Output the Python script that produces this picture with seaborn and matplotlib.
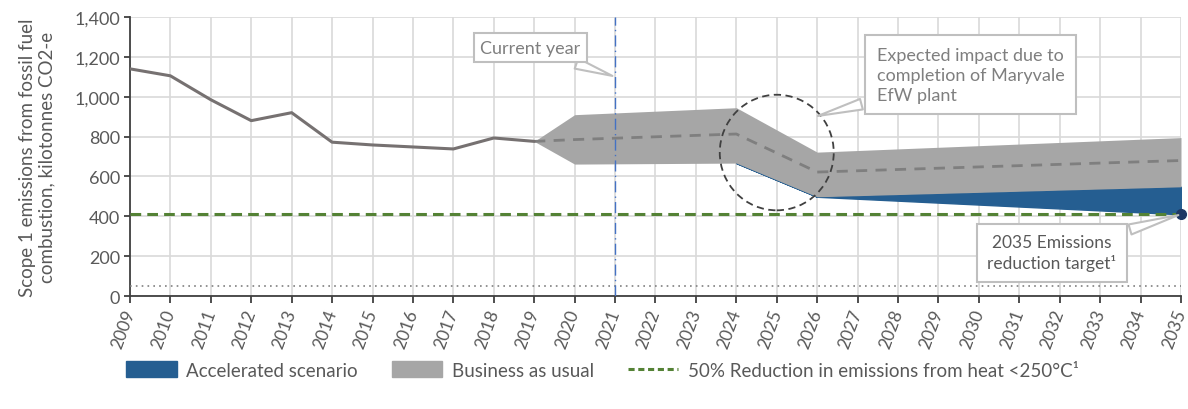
import matplotlib
matplotlib.use("Agg")
import matplotlib.pyplot as plt
import seaborn as sns
import numpy as np
import pandas as pd
from matplotlib.patches import Patch, Ellipse
from matplotlib.lines import Line2D

# ---- data ----
hist_years = [2009, 2010, 2011, 2012, 2013, 2014, 2015, 2016, 2017, 2018, 2019]
hist_vals = [1140, 1105, 985, 880, 920, 772, 758, 748, 738, 793, 776]

proj_years = [2019, 2020, 2024, 2026, 2035]
bau_high = [776, 910, 945, 722, 795]
bau_mid = [776, 785, 813, 622, 680]
bau_low = [776, 662, 667, 498, 548]

acc_years = [2024, 2026, 2035]
acc_top = [667, 498, 548]
acc_low = [667, 498, 410]

target_year = 2035
target_value = 410
heat_target = 410
floor_value = 50
current_year = 2021

year_ticks = list(range(2009, 2036))
y_ticks = [0, 200, 400, 600, 800, 1000, 1200, 1400]

# ---- style ----
sns.set_theme(style="white")
plt.rcParams['font.family'] = ['Lato', 'DejaVu Sans']

GRAY_TXT = "#595959"
fig = plt.figure(figsize=(11.88, 4.10), dpi=100)
ax = fig.add_axes([0.1094, 0.2756, 0.8847, 0.6804])

hist_df = pd.DataFrame({"year": hist_years, "value": hist_vals})
proj_df = pd.DataFrame({"year": proj_years, "high": bau_high, "mid": bau_mid, "low": bau_low})

# grid
ax.set_xticks(year_ticks)
ax.set_yticks(y_ticks)
ax.grid(True, color="#D9D9D9", linewidth=1.2)
ax.set_axisbelow(True)

# accelerated scenario band
ax.fill_between(acc_years, acc_low, acc_top, color="#255E91", linewidth=1.0,
                edgecolor="#255E91", zorder=2)
# BAU band
ax.fill_between(proj_df["year"], proj_df["low"], proj_df["high"], color="#A6A6A6",
                linewidth=0, zorder=3)

sns.lineplot(data=proj_df, x="year", y="mid", ax=ax, color="#7F7F7F",
             linewidth=2.0, dashes=False, zorder=4)
ax.lines[-1].set_linestyle((0, (4, 3)))

sns.lineplot(data=hist_df, x="year", y="value", ax=ax, color="#767171",
             linewidth=2.2, zorder=5)

# horizontal references
ax.axhline(heat_target, color="#548235", linewidth=2.2, linestyle=(0, (3.5, 2)), zorder=6)
ax.axhline(floor_value, color="#7F7F7F", linewidth=1.2, linestyle=(0, (1, 2.5)), zorder=6)
ax.axvline(current_year, color="#4472C4", linewidth=1.0, linestyle=(0, (8, 3, 1, 3)), zorder=6)

ax.plot([target_year], [target_value], marker="o", markersize=7, color="#1F3864",
        markeredgecolor="#1F3864", zorder=8, clip_on=False)

# dashed circle
ax.add_patch(Ellipse((2025.0, 720), width=2.82, height=580, fill=False,
                     edgecolor="#404040", linestyle=(0, (4, 2.5)), linewidth=1.3, zorder=7))

# annotations
arrow = dict(arrowstyle="wedge,tail_width=0.6,shrink_factor=0.5", fc="white",
             ec="#BFBFBF", lw=1.5)
ax.annotate("Current year", xy=(2021, 1100), xytext=(2018.9, 1247),
            ha="center", va="center", fontsize=13, color="#7F7F7F",
            bbox=dict(boxstyle="square,pad=0.35", fc="white", ec="#BFBFBF", lw=1.5),
            arrowprops=arrow, zorder=9)
ax.annotate("Expected impact due to\ncompletion of Maryvale\nEfW plant",
            xy=(2025.95, 900), xytext=(2027.47, 1110),
            ha="left", va="center", fontsize=13, color="#7F7F7F", linespacing=1.3,
            bbox=dict(boxstyle="square,pad=0.65", fc="white", ec="#BFBFBF", lw=1.5),
            arrowprops=arrow, zorder=9)
ax.annotate("2035 Emissions\nreduction target\u00b9",
            xy=(2035, 410), xytext=(2031.8, 217),
            ha="center", va="center", fontsize=12.5, color="#595959", linespacing=1.3,
            bbox=dict(boxstyle="square,pad=0.6", fc="white", ec="#BFBFBF", lw=1.5),
            arrowprops=arrow, zorder=9)

# axes
ax.set_xlim(2009, 2035)
ax.set_ylim(0, 1400)
ax.set_xticklabels([str(y) for y in year_ticks], rotation=70, fontsize=12.5, color=GRAY_TXT,
                   ha="right", rotation_mode="anchor", va="center")
ax.set_yticklabels([f"{v:,}" for v in y_ticks], fontsize=13, color=GRAY_TXT)
ax.set_xlabel("")
ax.set_ylabel("Scope 1 emissions from fossil fuel\ncombustion, kilotonnes CO2-e",
              fontsize=13.5, color=GRAY_TXT)
ax.yaxis.set_label_coords(-0.071, 0.5)
for s in ["top", "right"]:
    ax.spines[s].set_visible(False)
for s in ["left", "bottom"]:
    ax.spines[s].set_color("#404040")
    ax.spines[s].set_linewidth(1.3)
ax.tick_params(axis="x", bottom=True, length=5, width=1.3, color="#404040", pad=5)
ax.tick_params(axis="y", left=True, length=4, width=1.3, color="#404040", pad=3)

handles = [Patch(facecolor="#255E91", edgecolor="#255E91"),
           Patch(facecolor="#A6A6A6", edgecolor="#A6A6A6"),
           Line2D([0], [0], color="#548235", linewidth=2.2, linestyle=(0, (2, 1.2)))]
labels = ["Accelerated scenario", "Business as usual",
          "50% Reduction in emissions from heat <250\u00b0C\u00b9"]
fig.legend(handles, labels, loc="center", bbox_to_anchor=(0.507, 0.095), ncol=3,
           frameon=False, fontsize=13.5, handlelength=2.7, handleheight=0.9,
           columnspacing=1.8, handletextpad=0.5, labelcolor=GRAY_TXT)

fig.savefig("out.png", dpi=100)
